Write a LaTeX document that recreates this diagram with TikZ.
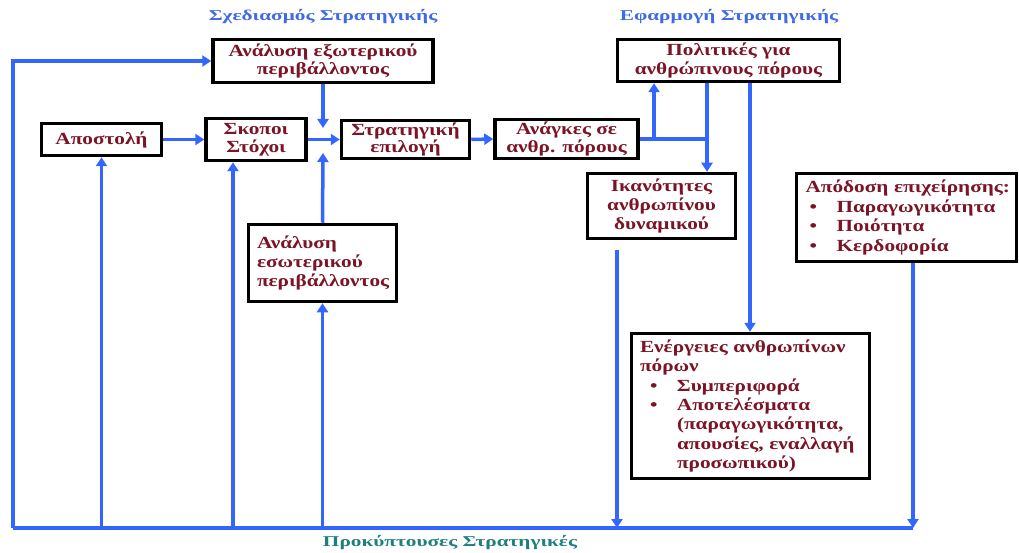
\documentclass[tikz,border=0pt]{standalone}
\usepackage{fontspec}
\setmainfont{Liberation Serif}[FakeStretch=1.25]
\newfontfamily\ttlfont{Liberation Serif}[FakeStretch=1.42]
\usetikzlibrary{arrows.meta,calc}
\definecolor{flowblue}{HTML}{3366FF}
\definecolor{txtred}{HTML}{7A1426}
\definecolor{ttlblue}{HTML}{3F6AE6}
\definecolor{tealtxt}{HTML}{1E7F7F}
\begin{document}
\begin{tikzpicture}[x=1pt,y=-1pt,
  box/.style={draw=black,line width=3.5pt,fill=white,text=txtred,
    font=\fontsize{17}{18.5}\selectfont\bfseries,inner sep=0pt,align=center},
  tight/.style={font=\fontsize{17}{17.5}\selectfont\bfseries},
  loose/.style={font=\fontsize{17}{19.4}\selectfont\bfseries},
  lbox/.style={box,align=left,inner xsep=8pt},
  flow/.style={draw=flowblue,line width=3.5pt,-{Triangle[width=11pt,length=9pt]}},
  link/.style={draw=flowblue,line width=3.5pt},
  ttl/.style={font=\ttlfont\fontsize{15}{17}\selectfont\bfseries}]
\useasboundingbox (0,0) rectangle (1019,553);

% titles
\node[ttl,text=ttlblue] (t1) at (323,17) {Σχεδιασμός Στρατηγικής};
\node[ttl,text=ttlblue] (t2) at (729,17) {Εφαρμογή Στρατηγικής};
\node[ttl,text=tealtxt] (t3) at (450,543) {Προκύπτουσες Στρατηγικές};

% boxes
\node[box,minimum width=220pt,minimum height=43pt] (extA) at (323,61)
  {Ανάλυση εξωτερικού\\περιβάλλοντος};
\node[box,minimum width=120pt,minimum height=32pt] (apost) at (101.5,139.5)
  {Αποστολή};
\node[box,minimum width=100pt,minimum height=42pt] (skop) at (256,139.5)
  {Σκοποι\\Στόχοι};
\node[box,tight,minimum width=128pt,minimum height=38pt] (strat) at (405.5,139.5)
  {Στρατηγική\\επιλογή};
\node[box,tight,minimum width=143pt,minimum height=39pt] (anagk) at (566.5,139)
  {Ανάγκες σε\\ανθρ. πόρους};
\node[box,minimum width=222pt,minimum height=42pt] (polit) at (728.5,60.5)
  {Πολιτικές για\\ανθρώπινους πόρους};
\node[box,loose,minimum width=148pt,minimum height=65pt] (ikan) at (661.5,206)
  {Ικανότητες\\ανθρωπίνου\\δυναμικού};
\node[lbox,loose,inner xsep=5pt,text width=210pt,minimum width=220pt,minimum height=88pt] (apod) at (906.5,217.5)
  {\hspace*{4pt}Απόδοση επιχείρησης:\\
   \hspace*{8pt}\makebox[27pt][l]{•}Παραγωγικότητα\\
   \hspace*{8pt}\makebox[27pt][l]{•}Ποιότητα\\
   \hspace*{8pt}\makebox[27pt][l]{•}Κερδοφορία};
\node[lbox,loose,text width=131pt,minimum width=148pt,minimum height=77pt] (intA) at (322.5,263)
  {Ανάλυση\\εσωτερικού\\περιβάλλοντος};
\node[lbox,loose,text width=221pt,minimum width=238pt,minimum height=145pt] (energ) at (750.5,406)
  {Ενέργειες ανθρωπίνων\\πόρων\\
   \hspace*{10pt}\makebox[27pt][l]{•}Συμπεριφορά\\
   \hspace*{10pt}\makebox[27pt][l]{•}Αποτελέσματα\\
   \hspace*{37pt}(παραγωγικότητα,\\
   \hspace*{37pt}απουσίες, εναλλαγή\\
   \hspace*{37pt}προσωπικού)};

% helper coordinates
\coordinate (bl) at (13,528);
\coordinate (mTop) at (323,128);
\coordinate (mBot) at (323,153);
\coordinate (jA) at (654,139);
\coordinate (jB) at (707,139);
\coordinate (jC) at (750,139);
\coordinate (ikOut) at (617,250);
\coordinate (apX) at (913,528);

% bottom feedback line
\draw[link] (bl) -- (apX);
\draw[flow] (bl) |- (extA.west);
\draw[flow] (bl -| apost.south) -- (apost.south);
\draw[flow] (bl -| 233,0) -- (skop.south -| 233,0);
\draw[flow] (bl -| intA.south) -- (intA.south);

% merge into strategic choice
\draw[flow] (extA.south) -- (mTop);
\draw[flow] (intA.north) -- (mBot);
\draw[flow] (apost.east) -- (skop.west);
\draw[flow] (skop.east) -- (strat.west);
\draw[flow] (strat.east) -- (anagk.west);

% implementation side
\draw[link] (anagk.east) -- (jB);
\draw[flow] (jA) -- (jA |- polit.south);
\draw[flow] (jB |- polit.south) -- (jB |- ikan.north);
\draw[flow] (jC |- polit.south) -- (jC |- energ.north);
\draw[flow] (ikOut) -- (ikOut |- bl);
\draw[flow] (apX |- apod.south) -- (apX);
\end{tikzpicture}
\end{document}
